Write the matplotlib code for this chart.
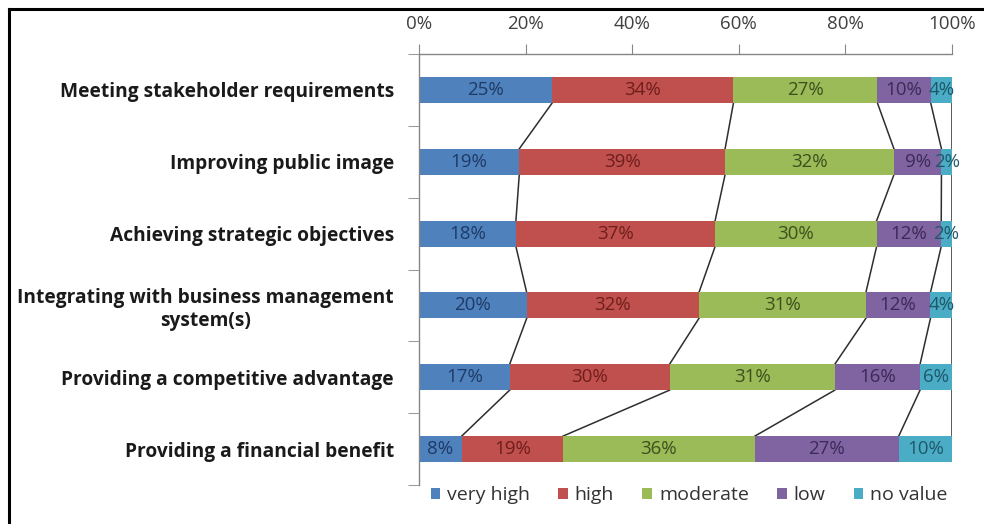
import numpy as np
import matplotlib
matplotlib.use("Agg")
import matplotlib.pyplot as plt
from matplotlib.patches import Patch
from matplotlib.lines import Line2D

plt.rcParams["font.family"] = ["Open Sans", "DejaVu Sans"]

# data (percent of respondents)
categories = [
    "Meeting stakeholder requirements",
    "Improving public image",
    "Achieving strategic objectives",
    "Integrating with business management\nsystem(s)",
    "Providing a competitive advantage",
    "Providing a financial benefit",
]
series = ["very high", "high", "moderate", "low", "no value"]
very_high = [25, 19, 18, 20, 17, 8]
high = [34, 39, 37, 32, 30, 19]
moderate = [27, 32, 30, 31, 31, 36]
low = [10, 9, 12, 12, 16, 27]
no_value = [4, 2, 2, 4, 6, 10]
x_ticks = [0, 20, 40, 60, 80, 100]

colors = ["#4F81BD", "#C0504D", "#9BBB59", "#8064A2", "#4BACC6"]
text_colors = ["#1F3A66", "#6E1E1C", "#3D4F1C", "#3A2A55", "#1E5868"]

vals = np.array([very_high, high, moderate, low, no_value], dtype=float)
shares = vals / vals.sum(axis=0) * 100  # 100% stacked, like the original
cum = np.cumsum(shares, axis=0)
left = cum - shares

fig = plt.figure(figsize=(9.84, 5.24), dpi=100)
ax = fig.add_axes([419 / 984, 1 - 485 / 524, (952 - 419) / 984, (485 - 54) / 524])

y = np.arange(len(categories))
h = 0.36
for k in range(len(series)):
    ax.barh(y, shares[k], left=left[k], height=h, color=colors[k], label=series[k], zorder=2)
    for i in range(len(categories)):
        ax.text(left[k, i] + shares[k, i] / 2, y[i], f"{int(vals[k, i])}%",
                ha="center", va="center", fontsize=13.5, color=text_colors[k], zorder=3)

# series lines between bars
for k in range(len(series)):
    for i in range(len(categories) - 1):
        ax.plot([cum[k, i], cum[k, i + 1]], [y[i] + h / 2, y[i + 1] - h / 2],
                color="#2e2e2e", lw=1.1, zorder=1)

ax.set_xlim(0, 100)
ax.set_ylim(len(categories) - 0.5, -0.5)
ax.xaxis.tick_top()
ax.set_xticks(x_ticks)
ax.set_xticklabels([f"{t}%" for t in x_ticks], fontsize=13.5, color="#404040")
ax.tick_params(axis="x", length=7, color="#868686", pad=8)

ax.set_yticks(y)
ax.set_yticklabels(categories, fontsize=13.8, fontweight="bold", color="#1a1a1a")
for lab in ax.get_yticklabels():
    lab.set_multialignment("center")
ax.set_yticks(np.arange(-0.5, len(categories), 1.0), minor=True)
ax.tick_params(axis="y", which="major", length=0, pad=18)
ax.tick_params(axis="y", which="minor", length=8, color="#868686")

for s in ["right", "bottom"]:
    ax.spines[s].set_visible(False)
for s in ["top", "left"]:
    ax.spines[s].set_color("#868686")
    ax.spines[s].set_linewidth(1.0)

handles = [Patch(facecolor=c, edgecolor="none") for c in colors]
fig.legend(handles, series, loc="center", bbox_to_anchor=(689 / 984, 1 - 495 / 524),
           ncol=5, frameon=False, fontsize=14, handlelength=0.5, handleheight=0.5,
           handletextpad=0.35, columnspacing=1.45, labelcolor="#333333")

# frame lines on the top and left of the picture
fig.add_artist(Line2D([9 / 984, 1.0], [1 - 9 / 524] * 2, transform=fig.transFigure,
                      color="black", lw=2.2))
fig.add_artist(Line2D([9 / 984] * 2, [0.0, 1 - 9 / 524], transform=fig.transFigure,
                      color="black", lw=2.2))

fig.savefig("out.png", dpi=100)
